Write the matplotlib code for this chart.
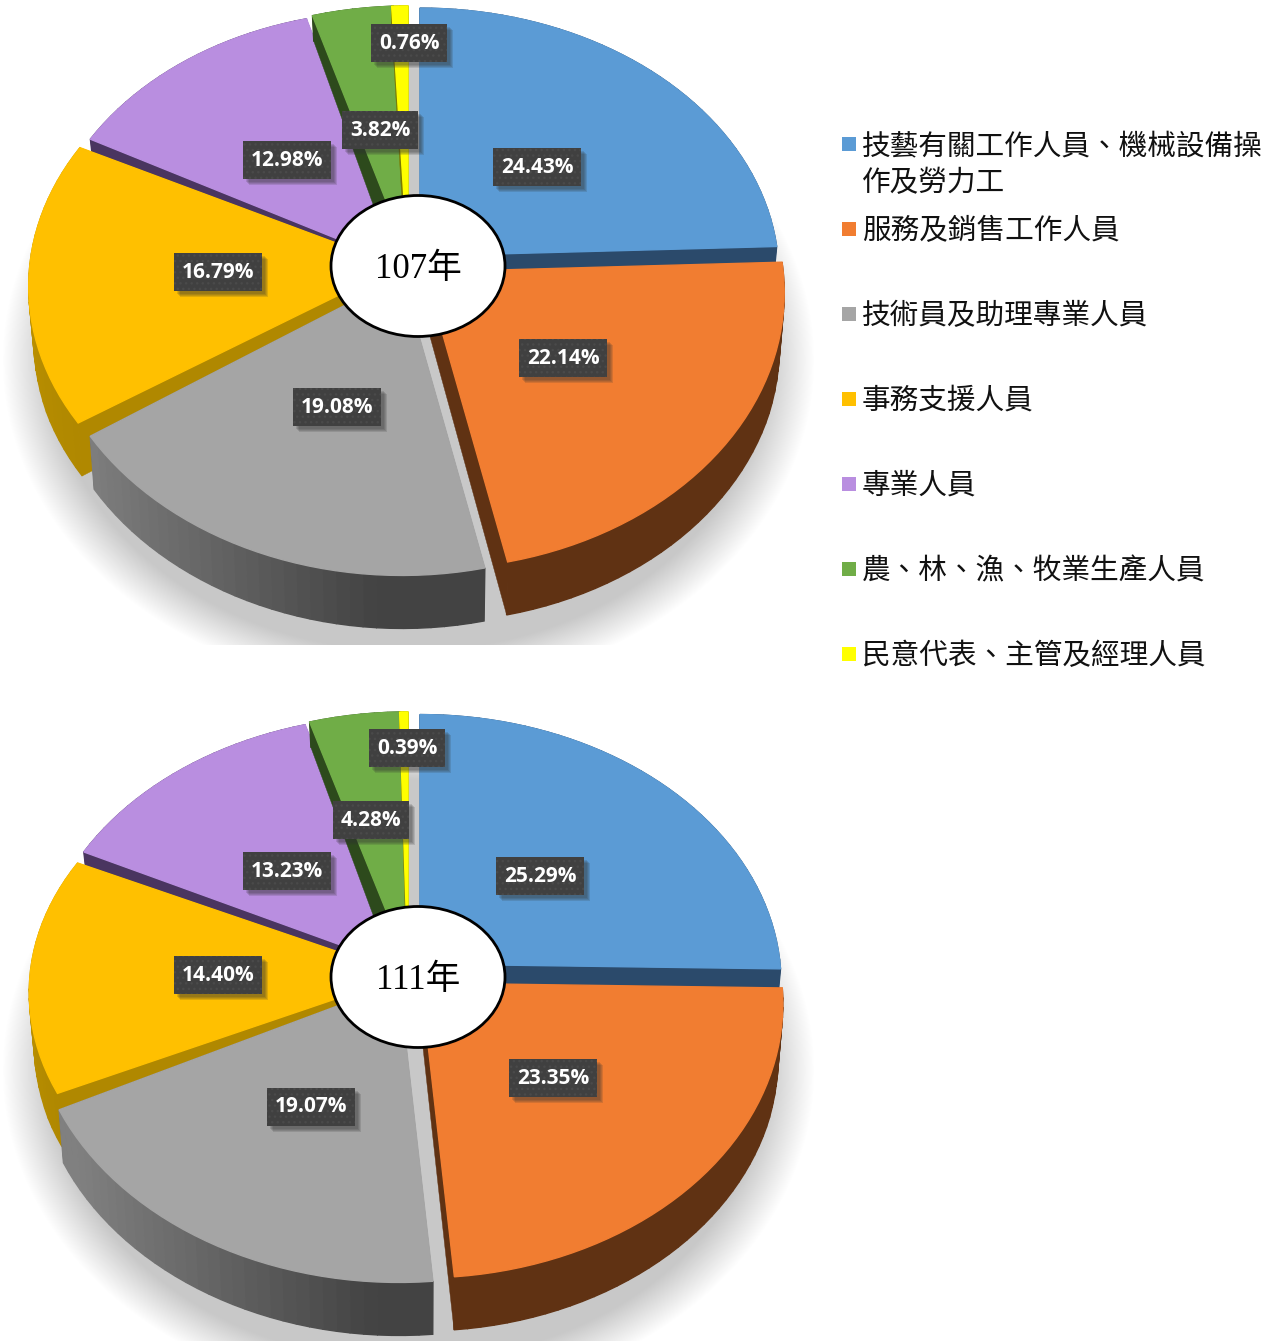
import numpy as np
import matplotlib
matplotlib.use('Agg')
import matplotlib.pyplot as plt
from matplotlib.patches import Polygon, Rectangle, Ellipse
from matplotlib.colors import to_rgb

# data
categories = ['技藝有關工作人員、機械設備操\n作及勞力工', '服務及銷售工作人員', '技術員及助理專業人員',
              '事務支援人員', '專業人員', '農、林、漁、牧業生產人員', '民意代表、主管及經理人員']
values_107 = [24.43, 22.14, 19.08, 16.79, 12.98, 3.82, 0.76]
values_111 = [25.29, 23.35, 19.07, 14.40, 13.23, 4.28, 0.39]

colors = ['#5b9bd5', '#f17d31', '#a5a5a5', '#ffc000', '#b98ee0', '#70ad47', '#ffff00']
wall_start = ['#2b4a6b', '#603213', '#808080', '#b08800', '#4a3560', '#2d4a1c', '#7a7a00']
wall_end = ['#2b4a6b', '#603213', '#434343', '#c69800', '#4a3560', '#2d4a1c', '#7a7a00']
draw_order = [4, 5, 6, 0, 3, 2, 1]

# layout per slice: centre x, centre y, x scale, y scale, shear
layout_107 = [(420, 256, .962, .962, 0), (425, 272, .963, .993, 0), (402, 276, .965, 1.0, 0),
              (398, 266, .99, .98, 0), (402, 265, .97, .985, .022), (410, 261, .99, .99, 0), (408, 261, .99, .99, 0)]
layout_111 = [(420, 964, .968, .968, 0), (421, 983, .97, .985, 0), (399, 983, .985, 1.0, 0),
              (406, 975, 1.01, .95, .006), (404, 968, .985, .98, .008), (409, 967, .99, .99, 0), (408, 967, .99, .99, 0)]
label_pos_107 = [(537, 167), (563, 358), (337, 407), (218, 272), (287, 160), (380, 130), (409, 43)]
label_pos_111 = [(540, 876), (553, 1078), (311, 1107), (218, 975), (287, 871), (371, 820), (407, 748)]
legend_y = [144, 229, 314, 399, 484, 569, 654]

rx = 372
ry = 277
k = 0.075


def project(theta, cx, cy, sx, sy, shear):
    u = np.sin(theta)
    v = np.cos(theta)
    w = 1 + k * v
    x = rx * sx * u / w
    return cx + x, cy - ry * sy * v / w + shear * x


def extrude(x, y, top):
    depth = np.minimum(53, 25 + 0.08 * (y - top))
    return x + (420 - x) * 0.012, y + depth


def mix(c1, c2, t):
    a = np.array(to_rgb(c1))
    b = np.array(to_rgb(c2))
    return tuple(a + (b - a) * t)


def draw_shadow(ax, cy, y0, y1):
    ys, xs = np.mgrid[y0:y1, 0:830]
    d = np.sqrt(((xs - 408) / 406.0) ** 2 + ((ys - cy) / 330.0) ** 2)
    alpha = np.clip((1 - d) / 0.12, 0, 1)
    img = np.zeros(xs.shape + (4,))
    img[..., :3] = 200 / 255.0
    img[..., 3] = alpha
    ax.imshow(img, extent=(0, 830, y1, y0), aspect='auto', zorder=0)


def draw_slice(ax, a0, a1, i, lay, top, z):
    cx, cy, sx, sy, shear = lay
    n = max(int(np.degrees(a1 - a0) / 2), 2)
    th = np.linspace(a0, a1, n + 1)
    x, y = project(th, cx, cy, sx, sy, shear)
    bx, by = extrude(x, y, top)
    ex, ey = extrude(np.array([cx]), np.array([cy]), top)
    # radial walls
    for xx, yy, bxx, byy, col in [(x[0], y[0], bx[0], by[0], wall_start[i]), (x[-1], y[-1], bx[-1], by[-1], wall_end[i])]:
        ax.add_patch(Polygon([(cx, cy), (xx, yy), (bxx, byy), (ex[0], ey[0])], fc=col, ec=col, lw=.3, zorder=z))
    # outer wall, shaded along the arc
    xmin, xmax = 80.0, 380.0
    for j in range(n):
        t = np.clip((x[j] - xmin) / (xmax - xmin), 0, 1) if i == 2 else j / n
        c = mix(wall_start[i], wall_end[i], t)
        ax.add_patch(Polygon([(x[j], y[j]), (x[j + 1], y[j + 1]), (bx[j + 1], by[j + 1]), (bx[j], by[j])],
                             fc=c, ec=c, lw=1, zorder=z))
    ax.add_patch(Polygon(np.r_[[[cx, cy]], np.c_[x, y]], fc=colors[i], ec=colors[i], lw=1, zorder=z + .5))


def draw_pie(ax, values, layout, label_pos, top, shadow_cy, y0, y1, name, name_y):
    draw_shadow(ax, shadow_cy, y0, y1)
    edges = np.r_[0, np.cumsum(values)] / np.sum(values) * 2 * np.pi
    for z, i in enumerate(draw_order):
        draw_slice(ax, edges[i], edges[i + 1], i, layout[i], top, 1 + z)
    for v, (lx, ly) in zip(values, label_pos):
        w = 76 if v < 10 else 88
        h = 38
        for off in [6, 5, 4, 3]:
            ax.add_patch(Rectangle((lx - w / 2 + off, ly - h / 2 + off), w, h, fc='#333333', ec='none', alpha=.16, zorder=20))
        ax.add_patch(Rectangle((lx - w / 2, ly - h / 2), w, h, fc='#404040', ec='#4a4a4a', lw=0, hatch='...', zorder=21))
        ax.text(lx, ly, '%.2f%%' % v, color='white', fontsize=15, fontweight='bold', family='Open Sans',
                ha='center', va='center', zorder=22)
    ax.add_patch(Ellipse((418, name_y), 174, 141, fc='white', ec='black', lw=2, zorder=30))
    ax.text(418, name_y + 3, name, fontsize=25, ha='center', va='center', zorder=31,
            family=['Liberation Serif', 'Noto Sans CJK TC'])


plt.rcParams['hatch.linewidth'] = 1.0
fig = plt.figure(figsize=(12.78, 13.41), dpi=100)
ax = fig.add_axes([0, 0, 1, 1])

draw_pie(ax, values_107, layout_107, label_pos_107, 8, 360, 0, 645, '107年', 266)
draw_pie(ax, values_111, layout_111, label_pos_111, 716, 1070, 700, 1341, '111年', 977)

for c, name, ly in zip(colors, categories, legend_y):
    ax.add_patch(Rectangle((842, ly - 7.5), 14, 14, fc=c, ec='none', zorder=5))
    ax.text(862, ly - 13, name, fontsize=20.65, family=['Noto Sans CJK TC', 'DejaVu Sans'],
            color='#111111', ha='left', va='top', linespacing=1.29)

ax.set_xlim(0, 1278)
ax.set_ylim(1341, 0)
ax.axis('off')
fig.savefig('out.png', dpi=100)
